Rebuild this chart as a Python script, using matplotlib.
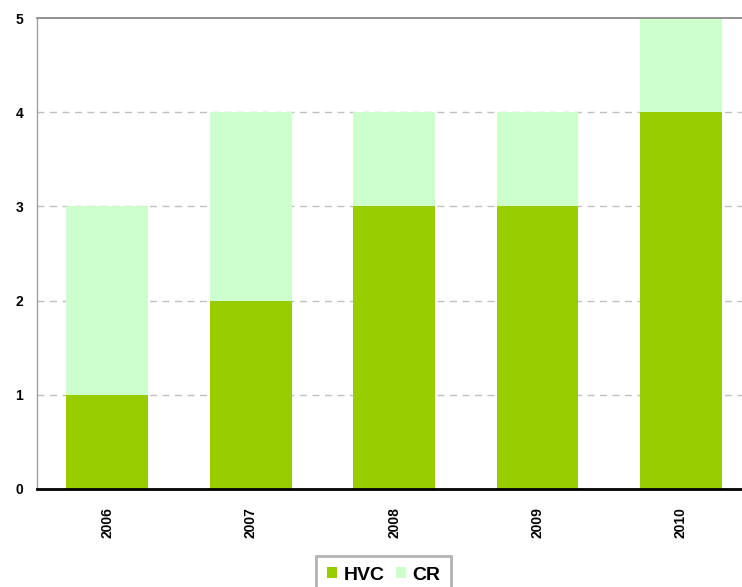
import matplotlib
matplotlib.use('Agg')
import matplotlib.pyplot as plt
import numpy as np

years = ['2006', '2007', '2008', '2009', '2010']
hvc = [1, 2, 3, 3, 4]
cr = [2, 2, 1, 1, 1]

plt.rcParams['font.family'] = ['Liberation Sans', 'DejaVu Sans']
plt.rcParams['font.weight'] = 'bold'

W, H = 742, 587
fig = plt.figure(figsize=(W / 100, H / 100), dpi=100)
# axes run past the right edge of the picture, as in the reference
ax = fig.add_axes([37 / W, 1 - 489 / H, 717 / W, (489 - 18) / H])

x = np.arange(len(years))
ax.bar(x, hvc, width=0.57, color='#99CC00', label='HVC', zorder=2)
ax.bar(x, cr, width=0.57, bottom=hvc, color='#CCFFCC', label='CR', zorder=2)

ax.set_xlim(-0.49, 4.51)
ax.set_ylim(0, 5)
ax.set_yticks(range(6))
for yv in range(1, 5):
    ax.axhline(yv, color='#c0c0c0', lw=1, ls=(0, (5, 4)), zorder=1)

ax.set_xticks(x)
ax.set_xticklabels(years, rotation=90, fontsize=10, fontweight='bold', va='top')
ax.tick_params(axis='x', length=0, pad=13)
ax.tick_params(axis='y', length=0, pad=10, labelsize=10)

ax.spines['right'].set_visible(False)
ax.spines['top'].set_color('#808080')
ax.spines['top'].set_linewidth(1.2)
ax.spines['left'].set_color('#a0a0a0')
ax.spines['left'].set_linewidth(1)
ax.spines['bottom'].set_color('black')
ax.spines['bottom'].set_linewidth(2)

leg = fig.legend(loc='upper left', bbox_to_anchor=(316 / W, 1 - 556 / H), ncol=2,
                 frameon=True, fancybox=False, handlelength=0.52,
                 handleheight=0.52, handletextpad=0.36, columnspacing=0.55,
                 borderpad=0.55, borderaxespad=0,
                 prop={'weight': 'bold', 'size': 14})
leg.get_frame().set_edgecolor('#a0a0a0')
leg.get_frame().set_linewidth(2)

fig.savefig('out.png', dpi=100)
